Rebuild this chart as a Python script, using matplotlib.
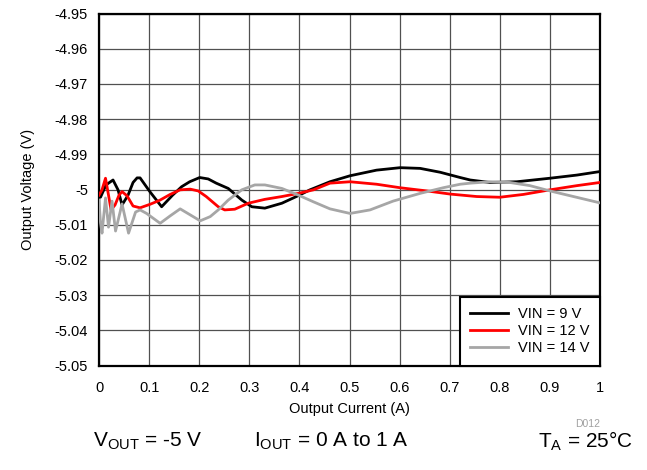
import matplotlib
matplotlib.use("Agg")
import matplotlib.pyplot as plt

plt.rcParams['font.family'] = ['Liberation Sans', 'DejaVu Sans']
plt.rcParams['mathtext.fontset'] = 'custom'
plt.rcParams['mathtext.rm'] = 'Liberation Sans'
plt.rcParams['mathtext.it'] = 'Liberation Sans'

# ---- data ----
i_9v = [0.000, 0.003, 0.014, 0.028, 0.038, 0.046, 0.058, 0.068, 0.076, 0.082, 0.102, 0.125,
        0.147, 0.165, 0.181, 0.201, 0.218, 0.234, 0.258, 0.285, 0.305, 0.331, 0.365, 0.397,
        0.421, 0.461, 0.501, 0.554, 0.601, 0.641, 0.681, 0.721, 0.741, 0.780, 0.834, 0.900,
        0.954, 1.000]
v_9v = [-5.0010, -5.0022, -4.9987, -4.9973, -5.0001, -5.0044, -5.0016, -4.9980, -4.9967, -4.9967,
        -5.0007, -5.0049, -5.0016, -4.9992, -4.9978, -4.9966, -4.9970, -4.9982, -4.9997, -5.0030,
        -5.0049, -5.0053, -5.0039, -5.0018, -5.0001, -4.9978, -4.9961, -4.9945, -4.9938, -4.9940,
        -4.9951, -4.9966, -4.9973, -4.9980, -4.9978, -4.9968, -4.9959, -4.9949]

i_12v = [0.000, 0.006, 0.013, 0.019, 0.024, 0.032, 0.040, 0.046, 0.056, 0.068, 0.082, 0.102,
         0.122, 0.142, 0.162, 0.182, 0.198, 0.214, 0.238, 0.251, 0.271, 0.298, 0.331, 0.365,
         0.398, 0.428, 0.461, 0.501, 0.554, 0.601, 0.654, 0.701, 0.754, 0.800, 0.847, 0.900,
         0.954, 1.000]
v_12v = [-5.0016, -5.0001, -4.9968, -5.0016, -5.0058, -5.0044, -5.0016, -5.0006, -5.0018, -5.0047,
         -5.0052, -5.0042, -5.0030, -5.0014, -5.0001, -4.9999, -5.0004, -5.0020, -5.0049, -5.0058,
         -5.0056, -5.0039, -5.0028, -5.0020, -5.0011, -5.0001, -4.9982, -4.9978, -4.9985, -4.9995,
         -5.0004, -5.0013, -5.0020, -5.0022, -5.0014, -5.0001, -4.9989, -4.9980]

i_14v = [0.000, 0.003, 0.006, 0.013, 0.019, 0.026, 0.033, 0.046, 0.059, 0.073, 0.082, 0.095,
         0.122, 0.142, 0.162, 0.182, 0.202, 0.222, 0.238, 0.258, 0.285, 0.311, 0.331, 0.365,
         0.398, 0.428, 0.461, 0.501, 0.541, 0.587, 0.641, 0.687, 0.721, 0.741, 0.780, 0.820,
         0.860, 0.900, 0.947, 1.000]
v_14v = [-5.0030, -5.0095, -5.0124, -5.0024, -5.0107, -5.0033, -5.0118, -5.0041, -5.0124, -5.0064,
         -5.0058, -5.0068, -5.0096, -5.0075, -5.0055, -5.0072, -5.0089, -5.0077, -5.0058, -5.0030,
         -5.0001, -4.9987, -4.9987, -4.9997, -5.0016, -5.0035, -5.0055, -5.0068, -5.0058, -5.0033,
         -5.0011, -4.9995, -4.9985, -4.9982, -4.9978, -4.9980, -4.9989, -5.0004, -5.0020, -5.0038]

x_ticks = [0, 0.1, 0.2, 0.3, 0.4, 0.5, 0.6, 0.7, 0.8, 0.9, 1.0]
x_tick_labels = ['0', '0.1', '0.2', '0.3', '0.4', '0.5', '0.6', '0.7', '0.8', '0.9', '1']
y_ticks = [-4.95, -4.96, -4.97, -4.98, -4.99, -5.00, -5.01, -5.02, -5.03, -5.04, -5.05]
y_tick_labels = ['-4.95', '-4.96', '-4.97', '-4.98', '-4.99', '-5', '-5.01', '-5.02',
                 '-5.03', '-5.04', '-5.05']
series_labels = ['VIN = 9 V', 'VIN = 12 V', 'VIN = 14 V']

# ---- figure ----
fig = plt.figure(figsize=(6.47, 4.70), dpi=100)
ax = fig.add_axes([99 / 647, 1 - 365.5 / 470, 501 / 647, 352 / 470])

ax.plot(i_9v, v_9v, color='black', lw=2.0, label=series_labels[0], zorder=3)
ax.plot(i_12v, v_12v, color='#ff0000', lw=2.0, label=series_labels[1], zorder=3)
ax.plot(i_14v, v_14v, color='#a6a6a6', lw=2.0, label=series_labels[2], zorder=3)

ax.set_xlim(0, 1)
ax.set_ylim(-5.05, -4.95)
ax.set_xticks(x_ticks)
ax.set_xticklabels(x_tick_labels)
ax.set_yticks(y_ticks)
ax.set_yticklabels(y_tick_labels)
ax.tick_params(length=0, labelsize=10.5)
ax.tick_params(axis='x', pad=11)
ax.tick_params(axis='y', pad=8)
ax.grid(True, color='#505050', lw=0.9)
ax.set_axisbelow(True)
for s in ax.spines.values():
    s.set_linewidth(1.6)
    s.set_color('black')

ax.set_xlabel('Output Current (A)', fontsize=10.5, labelpad=5)
ax.set_ylabel('Output Voltage (V)', fontsize=10.5, labelpad=14)

leg = ax.legend(loc='lower right', fontsize=10.5, frameon=True, fancybox=False,
                borderaxespad=0, handlelength=2.6, handletextpad=0.7,
                labelspacing=0.22, borderpad=0.7)
leg.get_frame().set_edgecolor('black')
leg.get_frame().set_linewidth(1.5)
leg.get_frame().set_alpha(1)

fig.text(600 / 647, 1 - 424 / 470, 'D012', color='#a0a0a0', fontsize=7.5,
         ha='right', va='center')
fig.text(93 / 647, 1 - 441 / 470, r'V$_{\mathrm{OUT}}$ = -5 V', fontsize=15,
         ha='left', va='center')
fig.text(254 / 647, 1 - 441 / 470, r'I$_{\mathrm{OUT}}$ = 0 A to 1 A', fontsize=15,
         ha='left', va='center')
fig.text(633 / 647, 1 - 441 / 470, r'T$_{\mathrm{A}}$ = 25°C', fontsize=15,
         ha='right', va='center')

fig.savefig('out.png', dpi=100)
